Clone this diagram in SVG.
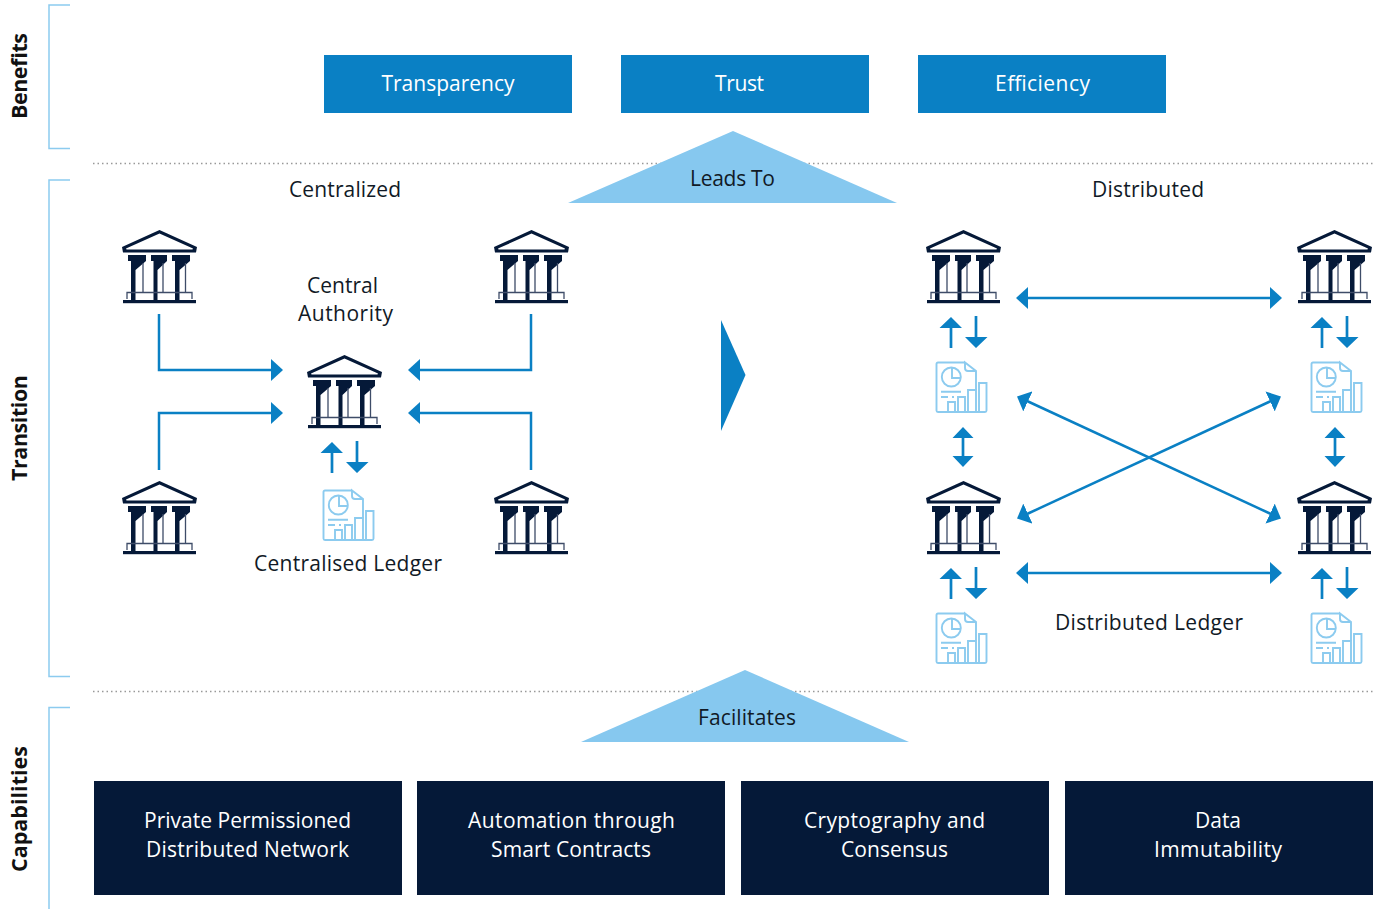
<svg xmlns="http://www.w3.org/2000/svg" xmlns:xlink="http://www.w3.org/1999/xlink" width="1383" height="909" viewBox="0 0 1383 909">
<style>
text{font-family:"Open Sans","Noto Sans","Liberation Sans",sans-serif;font-size:21px;fill:#111a26;text-anchor:middle}
.w{fill:#fff}
.side{font-weight:700;font-size:21.500px;fill:#111}
.brk{fill:none;stroke:#8ccbef;stroke-width:1.5}
.dot{fill:none;stroke:#999;stroke-width:1.3;stroke-dasharray:1.5 3}
.blue{fill:#0a80c4}
.navy{fill:#051938}
.tri{fill:#86c8ef}
.con{fill:none;stroke:#0a80c4;stroke-width:2.5}
.ah{fill:#0a80c4}
</style>
<defs>
<marker id="arr" viewBox="0 0 12 22" refX="1" refY="11" markerWidth="12" markerHeight="22" markerUnits="userSpaceOnUse" orient="auto-start-reverse"><path d="M0 0L12 11L0 22Z" class="ah"/></marker>
<symbol id="bank" width="76" height="74" viewBox="0 0 76 74" overflow="visible">
<path fill-rule="evenodd" fill="#051938" d="M37.500 0L75 17L74 22.500H1L0 17ZM37.500 3.500L71 18.500L70.500 19.500H4.500L4 18.500Z"/>
<g fill="#051938">
<path d="M6 25H24V31L13.500 40V71H9V31H6Z"/>
<path d="M29 25H45V31L35.500 40V71H31.500V31H29Z"/>
<path d="M50 25H68V31L57.500 40V71H53V31H50Z"/>
<rect x="1" y="70" width="73" height="3.200"/>
</g>
<g fill="none" stroke="#3e4c68" stroke-width="1.300">
<path d="M21 33V62M41 33V62M63.500 33V62"/>
<path d="M5 69V62.500H70V69"/>
</g>
</symbol>
<symbol id="ledger" width="54" height="54" viewBox="0 0 54 54" overflow="visible">
<g fill="none" stroke="#8ccbef" stroke-width="1.900">
<path d="M30 1.500H3Q1.500 1.500 1.500 3V49.500Q1.500 51 3 51H50Q51.500 51 51.500 49.500V22H44V51"/>
<path d="M41 29V10L30 1.500V7Q30 10 33 10H41"/>
<circle cx="16.300" cy="16" r="9.500"/>
<path d="M17 6.500V17H26"/>
<path d="M6 30.700H26M6 36H13M17 36H19"/>
<path d="M13 51V41H20V51M23 51V36H30V51M33 51V29H41V51"/>
</g>
</symbol>
<symbol id="ud" width="48" height="32" viewBox="0 0 48 32" overflow="visible">
<path class="ah" d="M11 0L22 11H-0.500Z M36 31L25 20H47.500Z"/>
<path d="M11 10V31M36 -1V21" stroke="#0a80c4" stroke-width="2.700" fill="none"/>
</symbol>
<symbol id="vv" width="22" height="40" viewBox="0 0 22 40" overflow="visible">
<path class="ah" d="M11 0L21.500 11H0.500ZM11 40L0.500 29H21.500Z"/>
<path d="M11 10V30" stroke="#0a80c4" stroke-width="2.700" fill="none"/>
</symbol>
</defs>
<rect width="1383" height="909" fill="#fff"/>

<g id="brackets">
<path class="brk" d="M70 5H49V148.500H70"/>
<path class="brk" d="M70 180H49V676.500H70"/>
<path class="brk" d="M70 707.500H49V909"/>
<path class="dot" d="M93 163.500H1374"/>
<path class="dot" d="M93 691.500H1374"/>
</g>
<g id="side-labels">
<text class="side" textLength="86" transform="translate(27 76) rotate(-90)">Benefits</text>
<text class="side" textLength="106" transform="translate(27 428) rotate(-90)">Transition</text>
<text class="side" textLength="126" transform="translate(27 809) rotate(-90)">Capabilities</text>
</g>

<g id="benefit-transparency"><rect class="blue" x="324" y="55" width="248" height="58"/><text class="w" x="448" y="91">Transparency</text></g>
<g id="benefit-trust"><rect class="blue" x="621" y="55" width="248" height="58"/><text class="w" x="739.500" y="91" textLength="49">Trust</text></g>
<g id="benefit-efficiency"><rect class="blue" x="918" y="55" width="248" height="58"/><text class="w" x="1042.500" y="91" textLength="95">Efficiency</text></g>

<g id="leads-to"><path class="tri" d="M733 131L897 203H568Z"/><text x="732.500" y="186" textLength="85">Leads To</text></g>
<g id="facilitates"><path class="tri" d="M745 670L909 742H581Z"/><text x="747" y="725" textLength="98">Facilitates</text></g>
<g id="titles">
<text x="345" y="197" textLength="112">Centralized</text>
<text x="1148" y="197" textLength="112">Distributed</text>
<text x="342.500" y="293">Central</text>
<text x="345.500" y="321" textLength="95">Authority</text>
<text x="348" y="571" textLength="188">Centralised Ledger</text>
<text x="1149" y="630" textLength="188">Distributed Ledger</text>
</g>

<g id="connectors">
<path class="con" d="M159 314V370H272" marker-end="url(#arr)"/>
<path class="con" d="M531 314V370H419" marker-end="url(#arr)"/>
<path class="con" d="M159 470V413H272" marker-end="url(#arr)"/>
<path class="con" d="M531 470V413H419" marker-end="url(#arr)"/>
<path class="con" d="M1027 298H1271" marker-start="url(#arr)" marker-end="url(#arr)"/>
<path class="con" d="M1027 573H1271" marker-start="url(#arr)" marker-end="url(#arr)"/>
<path class="con" d="M1027 401L1271 514" marker-start="url(#arr)" marker-end="url(#arr)"/>
<path class="con" d="M1027 514L1271 401" marker-start="url(#arr)" marker-end="url(#arr)"/>
<use xlink:href="#vv" href="#vv" x="952" y="427"/>
<use xlink:href="#vv" href="#vv" x="1324" y="427"/>
<use xlink:href="#ud" href="#ud" x="321" y="442"/>
<use xlink:href="#ud" href="#ud" x="940" y="317"/>
<use xlink:href="#ud" href="#ud" x="1311" y="317"/>
<use xlink:href="#ud" href="#ud" x="940" y="568"/>
<use xlink:href="#ud" href="#ud" x="1311" y="568"/>
</g>

<g id="transition-arrow"><path class="blue" d="M721 320L745.500 375L721 431Z"/></g>

<g id="bank-1"><use xlink:href="#bank" href="#bank" x="122" y="230"/></g>
<g id="bank-2"><use xlink:href="#bank" href="#bank" x="494" y="230"/></g>
<g id="bank-3"><use xlink:href="#bank" href="#bank" x="122" y="481"/></g>
<g id="bank-4"><use xlink:href="#bank" href="#bank" x="494" y="481"/></g>
<g id="bank-central"><use xlink:href="#bank" href="#bank" x="307" y="355"/></g>
<g id="bank-5"><use xlink:href="#bank" href="#bank" x="926" y="230"/></g>
<g id="bank-6"><use xlink:href="#bank" href="#bank" x="1297" y="230"/></g>
<g id="bank-7"><use xlink:href="#bank" href="#bank" x="926" y="481"/></g>
<g id="bank-8"><use xlink:href="#bank" href="#bank" x="1297" y="481"/></g>

<g id="ledger-central"><use xlink:href="#ledger" href="#ledger" x="322" y="489"/></g>
<g id="ledger-1"><use xlink:href="#ledger" href="#ledger" x="935" y="361"/></g>
<g id="ledger-2"><use xlink:href="#ledger" href="#ledger" x="1310" y="361"/></g>
<g id="ledger-3"><use xlink:href="#ledger" href="#ledger" x="935" y="612"/></g>
<g id="ledger-4"><use xlink:href="#ledger" href="#ledger" x="1310" y="612"/></g>

<g id="cap-network"><rect class="navy" x="94" y="781" width="308" height="114"/><text class="w" x="247.500" y="828" textLength="207">Private Permissioned</text><text class="w" x="247.500" y="857" textLength="203">Distributed Network</text></g>
<g id="cap-automation"><rect class="navy" x="417" y="781" width="308" height="114"/><text class="w" x="571.500" y="828" textLength="207">Automation through</text><text class="w" x="571" y="857" textLength="160">Smart Contracts</text></g>
<g id="cap-crypto"><rect class="navy" x="741" y="781" width="308" height="114"/><text class="w" x="894.500" y="828" textLength="181">Cryptography and</text><text class="w" x="894.500" y="857" textLength="107">Consensus</text></g>
<g id="cap-data"><rect class="navy" x="1065" y="781" width="308" height="114"/><text class="w" x="1218" y="828">Data</text><text class="w" x="1218" y="857" textLength="128">Immutability</text></g>
</svg>
